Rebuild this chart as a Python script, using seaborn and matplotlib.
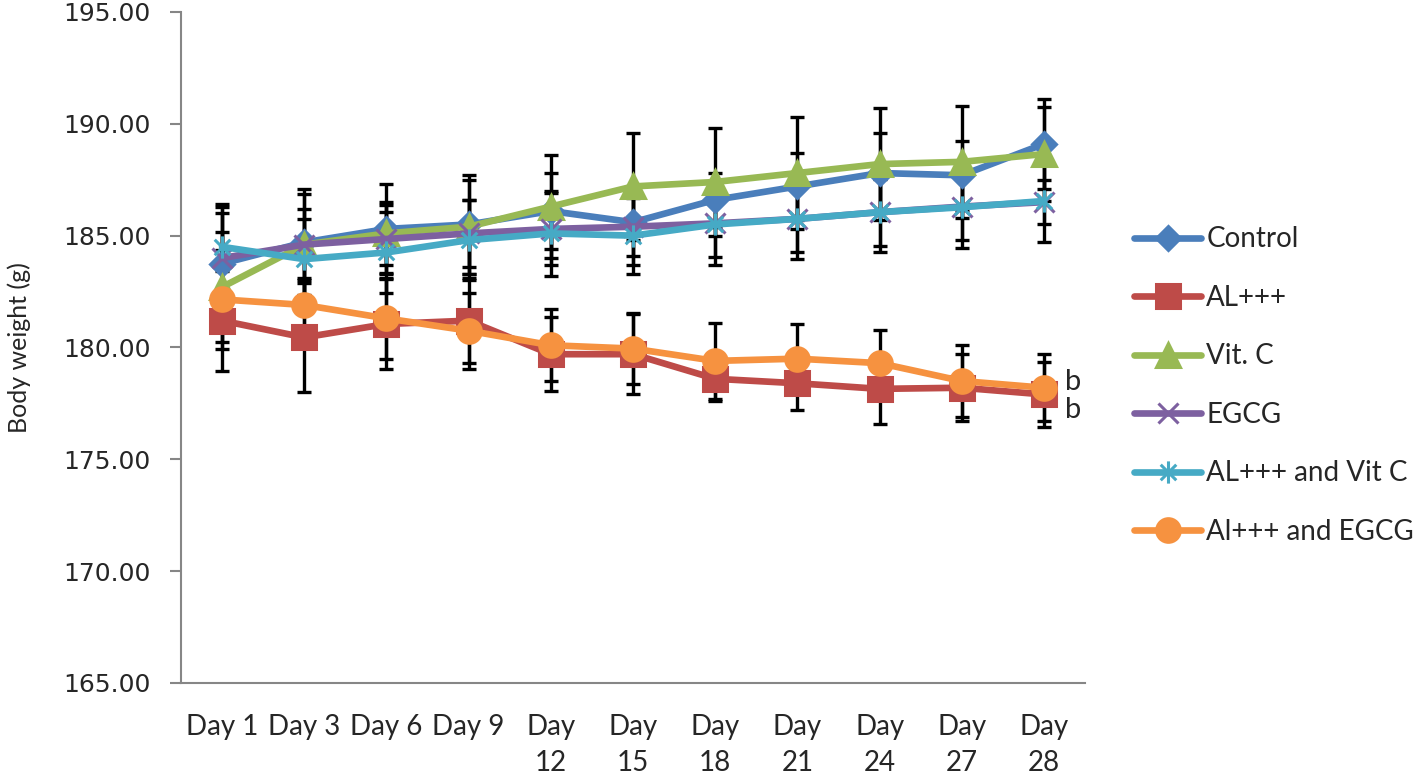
import numpy as np
import pandas as pd
import matplotlib
matplotlib.use("Agg")
import matplotlib.pyplot as plt
from matplotlib.path import Path
import seaborn as sns

days = ["Day 1", "Day 3", "Day 6", "Day 9", "Day 12", "Day 15",
        "Day 18", "Day 21", "Day 24", "Day 27", "Day 28"]
day_labels = ["Day 1", "Day 3", "Day 6", "Day 9", "Day\n12", "Day\n15",
              "Day\n18", "Day\n21", "Day\n24", "Day\n27", "Day\n28"]

groups = ["Control", "AL+++", "Vit. C", "EGCG", "AL+++ and Vit C", "Al+++ and EGCG"]

control = [183.75, 184.7, 185.3, 185.5, 186.1, 185.6, 186.6, 187.2, 187.8, 187.7, 189.1]
al = [181.2, 180.45, 181.05, 181.2, 179.7, 179.7, 178.6, 178.4, 178.15, 178.2, 177.9]
vitc = [182.7, 184.6, 185.1, 185.4, 186.3, 187.2, 187.4, 187.8, 188.2, 188.3, 188.65]
egcg = [184.0, 184.6, 184.85, 185.1, 185.3, 185.4, 185.55, 185.75, 186.05, 186.3, 186.5]
al_vitc = [184.5, 183.95, 184.25, 184.8, 185.1, 185.0, 185.5, 185.75, 186.05, 186.27, 186.55]
al_egcg = [182.15, 181.9, 181.3, 180.75, 180.1, 179.95, 179.4, 179.5, 179.3, 178.5, 178.2]

control_sd = [2.55, 2.4, 2.0, 2.2, 1.7, 1.5, 1.2, 1.5, 1.8, 1.55, 2.0]
al_sd = [2.23, 2.45, 2.0, 1.9, 1.65, 1.8, 1.0, 1.2, 1.55, 1.5, 1.45]
vitc_sd = [2.45, 2.26, 1.4, 2.1, 2.3, 2.4, 2.4, 2.5, 2.5, 2.5, 2.1]
egcg_sd = [2.0, 1.6, 1.5, 1.5, 1.6, 1.7, 1.5, 1.5, 1.5, 1.5, 1.0]
al_vitc_sd = [1.9, 1.8, 1.8, 1.8, 1.9, 1.7, 1.8, 1.8, 1.8, 1.8, 1.85]
al_egcg_sd = [2.2, 1.2, 1.8, 1.7, 1.6, 1.6, 1.7, 1.55, 1.5, 1.6, 1.5]

means = [control, al, vitc, egcg, al_vitc, al_egcg]
sds = [control_sd, al_sd, vitc_sd, egcg_sd, al_vitc_sd, al_egcg_sd]

colors = ["#4A7EBB", "#BE4B48", "#98B954", "#7D60A0", "#46AAC5", "#F69240"]

# excel style asterisk: vertical bar plus an x
asterisk = Path([(0, -1), (0, 1), (-0.7, -0.7), (0.7, 0.7), (-0.7, 0.7), (0.7, -0.7)],
                [Path.MOVETO, Path.LINETO] * 3)
markers = ["D", "s", "^", "x", asterisk, "o"]
msizes = [12, 17, 17, 15, 16, 17]

df = pd.DataFrame({
    "day": days * len(groups),
    "group": np.repeat(groups, len(days)),
    "weight": np.concatenate(means),
})

sns.set_theme(style="white")
plt.rcParams["font.family"] = ["Lato", "DejaVu Sans"]

fig = plt.figure(figsize=(14.18, 7.74), dpi=100)
ax = fig.add_axes([0.1276, 0.1176, 0.6376, 0.8669])

sns.lineplot(data=df, x="day", y="weight", hue="group",
             palette=dict(zip(groups, colors)), sort=False, errorbar=None,
             linewidth=4.8, legend=False, ax=ax, zorder=3)

series = list(ax.lines)
for line, c, mk, ms in zip(series, colors, markers, msizes):
    line.set_marker(mk)
    line.set_markersize(ms)
    line.set_markeredgecolor(c)
    line.set_markerfacecolor(c)
    line.set_markeredgewidth(2.2)

for m, s in zip(means, sds):
    ax.errorbar(days, m, yerr=s, fmt="none", ecolor="black",
                elinewidth=2.4, capsize=5, capthick=2.4, zorder=1)

ax.set_xlim(-0.5, len(days) - 0.5)
ax.set_ylim(165, 195)
yt = np.arange(165, 196, 5)
ax.set_yticks(yt)
ax.set_yticklabels([f"{v:.2f}" for v in yt], fontfamily="DejaVu Sans", fontsize=18)
ax.set_xticks(range(len(days)))
ax.set_xticklabels(day_labels, fontsize=20, linespacing=1.5, va="top")
ax.set_xticks(np.arange(-0.5, len(days)), minor=True)
ax.tick_params(axis="x", which="major", length=0, pad=22)
ax.tick_params(axis="x", which="minor", length=7, width=1.5, color="#868686", direction="out")
ax.tick_params(axis="y", length=8, width=1.5, color="#868686", direction="out", pad=14, left=True)

for sp in ["top", "right"]:
    ax.spines[sp].set_visible(False)
for sp in ["left", "bottom"]:
    ax.spines[sp].set_color("#868686")
    ax.spines[sp].set_linewidth(1.5)

ax.set_xlabel("")
ax.set_ylabel("Body weight (g)", fontsize=18)
ax.yaxis.set_label_coords(-0.166, 0.5)

# significance letters next to last points
ax.annotate("b", (days[-1], al_egcg[-1]), xytext=(15, 4), textcoords="offset points",
            fontsize=21, va="center", ha="left")
ax.annotate("b", (days[-1], al[-1]), xytext=(15, -11), textcoords="offset points",
            fontsize=21, va="center", ha="left")

fig.legend(series, groups, loc="upper left", bbox_to_anchor=(0.792, 0.722),
           frameon=False, fontsize=20, handlelength=2.4, handletextpad=0.2,
           labelspacing=1.17, borderaxespad=0)

fig.savefig("out.png", dpi=100)
